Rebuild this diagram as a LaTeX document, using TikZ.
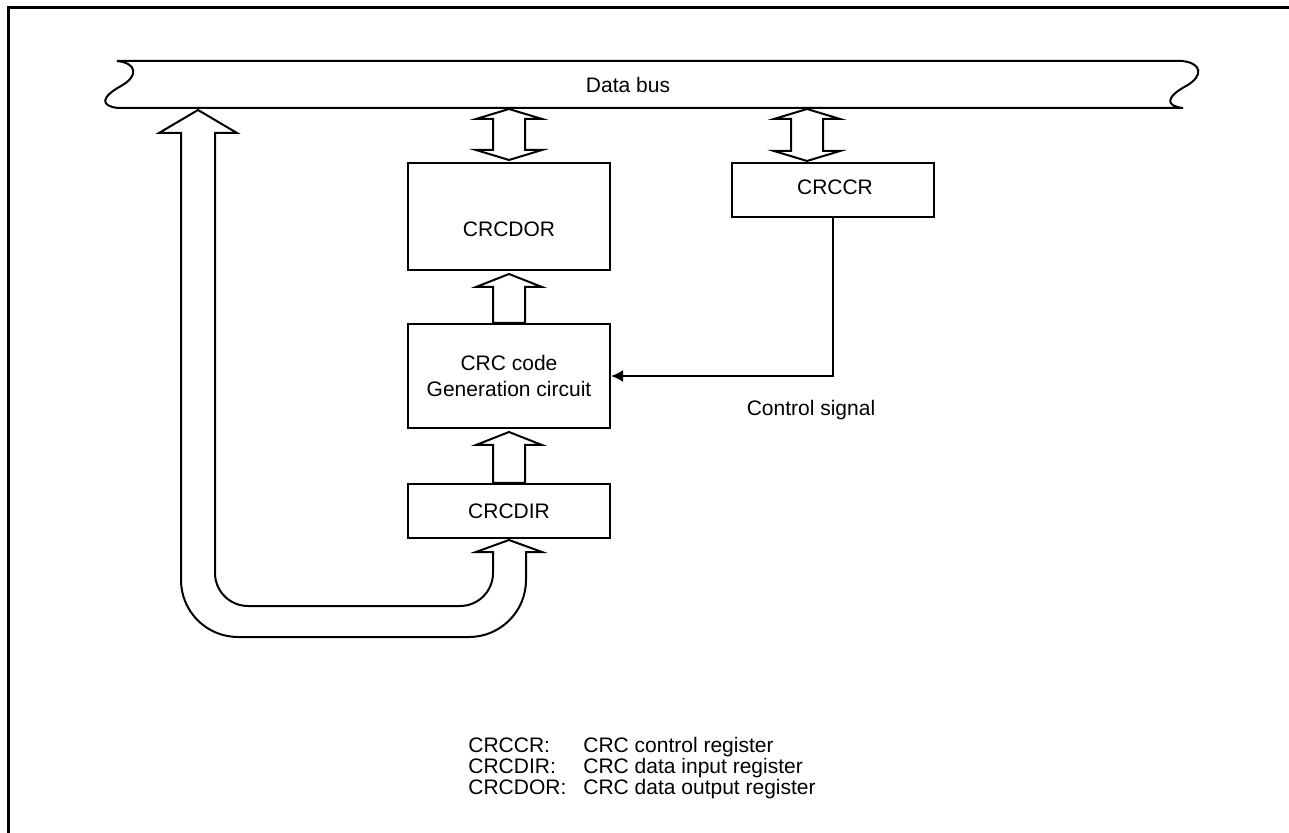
\documentclass[tikz,border=0pt]{standalone}
\usepackage{fontspec}
\setmainfont{Liberation Sans}
\usetikzlibrary{arrows.meta,calc}
\newcommand\dbarrow[2]{%
  \draw[blk] ($(#1)+(0,1)$) -- ($(#1)+(33,11)$) -- ($(#1)+(16,11)$) -- ($(#2)+(16,-12)$) -- ($(#2)+(33,-12)$) -- ($(#2)+(0,-2)$) -- ($(#2)+(-33,-12)$) -- ($(#2)+(-16,-12)$) -- ($(#1)+(-16,11)$) -- ($(#1)+(-33,11)$) -- cycle;}
\newcommand\uparrowblk[2]{%
  \draw[blk] ($(#2)+(0,3)$) -- ($(#2)+(33,16)$) -- ($(#2)+(16,16)$) -- ($(#1)+(16,0)$) -- ($(#1)+(-16,0)$) -- ($(#2)+(-16,16)$) -- ($(#2)+(-33,16)$) -- cycle;}
\begin{document}
\begin{tikzpicture}[x=0.5pt,y=-0.5pt,
  txt/.style={font=\fontsize{10.5}{13}\selectfont},
  reg/.style={draw,line width=1pt,minimum width=101pt,inner sep=0pt,align=center,txt},
  blk/.style={draw,line width=1pt,line join=miter},
  lbl/.style={inner sep=0pt,txt}]
\useasboundingbox (0,0) rectangle (1289,833);
% frame
\draw[line width=1.5pt,line join=miter] (8,833) -- (8,8) -- (1289,8);
% data bus
\draw[line width=1pt] (117,61) -- (1182,61)
  .. controls (1202,63) and (1204,76) .. (1186,86)
  .. controls (1166,97) and (1165,106) .. (1183,108)
  -- (118,108)
  .. controls (100,106) and (101,97) .. (121,86)
  .. controls (139,76) and (137,63) .. (117,61) -- cycle;
\node[lbl] (bus) at (628,85) {Data bus};
\coordinate (busb) at (0,108);
% registers
\node[reg,minimum height=53.5pt] (dor) at (509,216.5) {};
\node[lbl] (dortxt) at (509,229) {CRCDOR};
\node[reg,minimum height=52pt] (gen) at (509,376) {CRC code\\Generation circuit};
\node[reg,minimum height=27pt] (dir) at (509,511) {CRCDIR};
\node[reg,minimum height=27pt] (ccr) at (833,190) {};
\node[lbl] (ccrtxt) at (835,187) {CRCCR};
\coordinate (ccrin) at (807,163);
% bus arrows
\dbarrow{dor.north |- busb}{dor.north}
\dbarrow{ccrin |- busb}{ccrin}
\uparrowblk{gen.north}{dor.south}
\uparrowblk{dir.north}{gen.south}
% U-shaped bus from data bus to CRCDIR
\coordinate (ut) at (198,110);
\draw[blk] (ut) -- (237,133) -- (215,133) -- (215,573)
  arc[start angle=180,end angle=270,radius=16.5pt] -- (460,606)
  arc[start angle=270,end angle=360,radius=16.5pt] -- (493,552)
  -- (476,552) -- ($(dir.south)+(0,1)$) -- (542,552) -- (526,552) -- (526,580)
  arc[start angle=0,end angle=-90,radius=28.5pt] -- (238,637)
  arc[start angle=-90,end angle=-180,radius=28.5pt] -- (181,133) -- (159,133) -- cycle;
% control signal
\draw[line width=1pt,-{Latex[length=6pt,width=6pt]}] (ccr.south) |- (gen.east);
\node[lbl] (cs) at (811,410) {Control signal};
% legend
\node[lbl,anchor=base west] (l1) at (468,752) {CRCCR:};
\node[lbl,anchor=base west] (l2) at (468,773) {CRCDIR:};
\node[lbl,anchor=base west] (l3) at (468,794) {CRCDOR:};
\node[lbl,anchor=base west] (d1) at (583,752) {CRC control register};
\node[lbl,anchor=base west] (d2) at (583,773) {CRC data input register};
\node[lbl,anchor=base west] (d3) at (583,794) {CRC data output register};
\end{tikzpicture}
\end{document}
